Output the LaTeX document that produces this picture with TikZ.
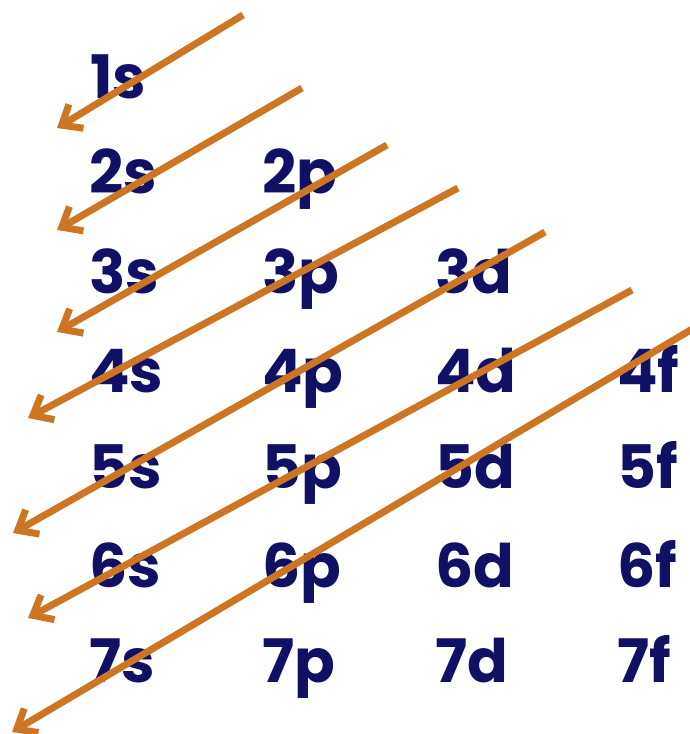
\documentclass[tikz,border=0pt]{standalone}
\usepackage{fontspec}
\setmainfont{Poppins}[BoldFont={Poppins Bold}]
\usetikzlibrary{arrows.meta}
\definecolor{orbnavy}{RGB}{16,16,100}
\definecolor{arrorange}{RGB}{204,118,36}
\tikzset{
  orb/.style={anchor=base west, inner sep=0pt, text=orbnavy,
    font=\fontsize{60}{60}\selectfont\bfseries},
  fillarrow/.style={draw=arrorange, line width=7pt,
    -{Straight Barb[length=17pt,width=28pt]}}
}
\begin{document}
\begin{tikzpicture}[x=1pt,y=-1pt]
\useasboundingbox (0,0) rectangle (690,734);
% orbital labels
\node[orb] (o1s) at (90,98)  {1s};
\node[orb] (o2s) at (89,193) {2s};
\node[orb] (o2p) at (262,193) {2p};
\node[orb] (o3s) at (89,293) {3s};
\node[orb] (o3p) at (262,293) {3p};
\node[orb] (o3d) at (435,293) {3d};
\node[orb] (o4s) at (89,392) {4s};
\node[orb] (o4p) at (262,392) {4p};
\node[orb] (o4d) at (435,392) {4d};
\node[orb] (o4f) at (617,392) {4f};
\node[orb] (o5s) at (89,488) {5s};
\node[orb] (o5p) at (262,488) {5p};
\node[orb] (o5d) at (435,488) {5d};
\node[orb] (o5f) at (617,488) {5f};
\node[orb] (o6s) at (89,587) {6s};
\node[orb] (o6p) at (262,587) {6p};
\node[orb] (o6d) at (435,587) {6d};
\node[orb] (o6f) at (617,587) {6f};
\node[orb] (o7s) at (89,682) {7s};
\node[orb] (o7p) at (262,682) {7p};
\node[orb] (o7d) at (435,682) {7d};
\node[orb] (o7f) at (617,682) {7f};
% arrow end points
\coordinate (a1) at (243,15);  \coordinate (b1) at (57,128);
\coordinate (a2) at (302,88);  \coordinate (b2) at (57,230);
\coordinate (a3) at (387,145); \coordinate (b3) at (57,332);
\coordinate (a4) at (458,188); \coordinate (b4) at (28,418);
\coordinate (a5) at (545,232); \coordinate (b5) at (13,533);
\coordinate (a6) at (632,290); \coordinate (b6) at (28,618);
\coordinate (a7) at (694,328); \coordinate (b7) at (12,732);
\foreach \i in {1,...,7}{
  \draw[fillarrow] (a\i) -- (b\i);
}
\end{tikzpicture}
\end{document}
